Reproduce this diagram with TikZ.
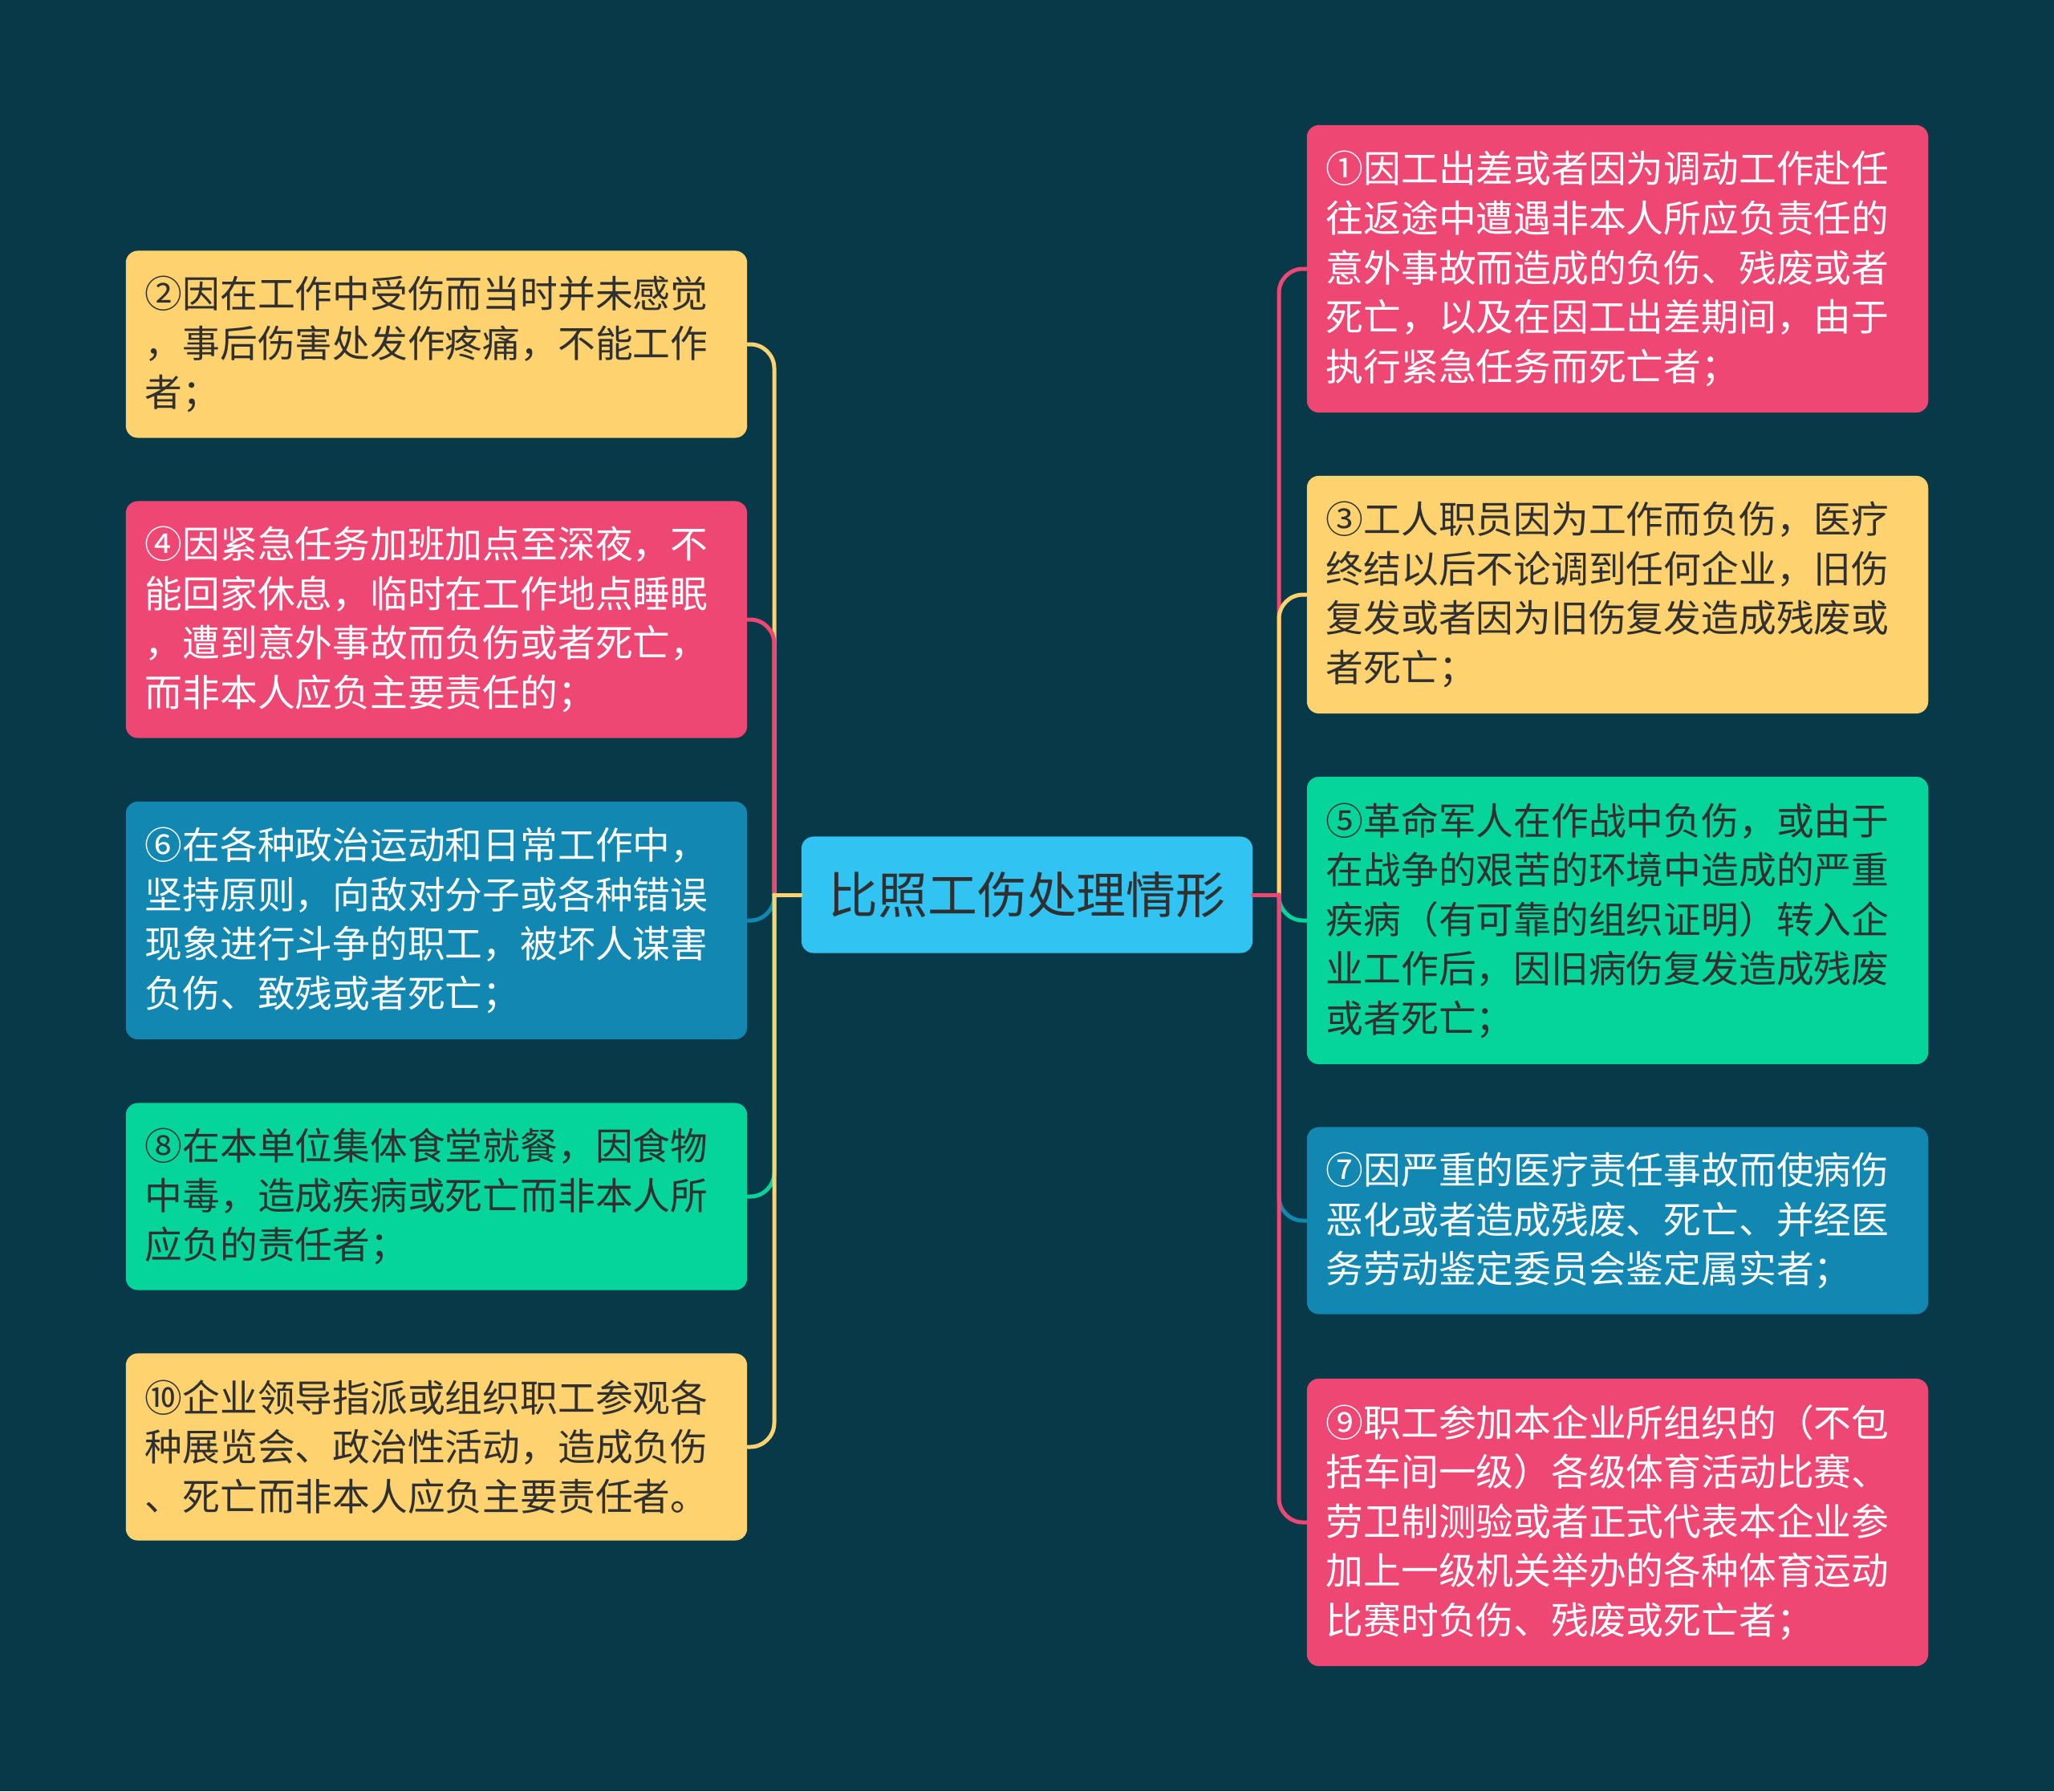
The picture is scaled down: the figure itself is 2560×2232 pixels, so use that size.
\documentclass[tikz,border=0pt]{standalone}
\usepackage{fontspec}
\newfontfamily\cjk{Noto Sans CJK SC}
\definecolor{bgteal}{RGB}{7,57,73}
\definecolor{cyellow}{RGB}{254,210,110}
\definecolor{cpink}{RGB}{239,71,116}
\definecolor{cblue}{RGB}{17,135,177}
\definecolor{cgreen}{RGB}{6,213,155}
\definecolor{ccyan}{RGB}{49,196,243}
\definecolor{cdark}{RGB}{48,48,48}

\begin{document}
\begin{tikzpicture}[
  x=0.01cm, y=-0.01cm,
  box/.style={rounded corners=1.5mm, text width=7.26cm, inner xsep=0.24cm, inner ysep=0pt,
    align=left, font=\cjk\fontsize{13.3pt}{17.5pt}\selectfont},
  yellowbox/.style={box, fill=cyellow, text=cdark},
  pinkbox/.style={box, fill=cpink, text=white},
  bluebox/.style={box, fill=cblue, text=white},
  greenbox/.style={box, fill=cgreen, text=cdark},
  rootbox/.style={rounded corners=1.5mm, fill=ccyan, text=cdark, minimum width=5.62cm,
    minimum height=1.45cm, inner sep=0pt, font=\cjk\fontsize{17.6pt}{20pt}\selectfont},
  link/.style={line width=0.05cm, line cap=round}
]
  \fill[bgteal] (0,0) rectangle (2560,2232);

  \node[rootbox] (root) at (1280,1115) {比照工伤处理情形};

  \node[yellowbox, minimum height=2.33cm] (c2) at (544,429) {②因在工作中受伤而当时并未感觉\\，事后伤害处发作疼痛，不能工作\\者；};
  \node[pinkbox, minimum height=2.95cm] (c4) at (544,772) {④因紧急任务加班加点至深夜，不\\能回家休息，临时在工作地点睡眠\\，遭到意外事故而负伤或者死亡，\\而非本人应负主要责任的；};
  \node[bluebox, minimum height=2.96cm] (c6) at (544,1147) {⑥在各种政治运动和日常工作中，\\坚持原则，向敌对分子或各种错误\\现象进行斗争的职工，被坏人谋害\\负伤、致残或者死亡；};
  \node[greenbox, minimum height=2.33cm] (c8) at (544,1491) {⑧在本单位集体食堂就餐，因食物\\中毒，造成疾病或死亡而非本人所\\应负的责任者；};
  \node[yellowbox, minimum height=2.33cm] (c10) at (544,1803) {⑩企业领导指派或组织职工参观各\\种展览会、政治性活动，造成负伤\\、死亡而非本人应负主要责任者。};

  \node[pinkbox, minimum height=3.58cm] (c1) at (2016,335) {①因工出差或者因为调动工作赴任\\往返途中遭遇非本人所应负责任的\\意外事故而造成的负伤、残废或者\\死亡，以及在因工出差期间，由于\\执行紧急任务而死亡者；};
  \node[yellowbox, minimum height=2.96cm] (c3) at (2016,741) {③工人职员因为工作而负伤，医疗\\终结以后不论调到任何企业，旧伤\\复发或者因为旧伤复发造成残废或\\者死亡；};
  \node[greenbox, minimum height=3.58cm] (c5) at (2016,1147) {⑤革命军人在作战中负伤，或由于\\在战争的艰苦的环境中造成的严重\\疾病（有可靠的组织证明）转入企\\业工作后，因旧病伤复发造成残废\\或者死亡；};
  \node[bluebox, minimum height=2.33cm] (c7) at (2016,1521) {⑦因严重的医疗责任事故而使病伤\\恶化或者造成残废、死亡、并经医\\务劳动鉴定委员会鉴定属实者；};
  \node[pinkbox, minimum height=3.58cm] (c9) at (2016,1897) {⑨职工参加本企业所组织的（不包\\括车间一级）各级体育活动比赛、\\劳卫制测验或者正式代表本企业参\\加上一级机关举办的各种体育运动\\比赛时负伤、残废或死亡者；};

  \coordinate (jl) at (965,1115);
  \coordinate (jr) at (1594,1115);

  \foreach \n/\c in {c2/cyellow,c4/cpink,c6/cblue,c8/cgreen,c10/cyellow} {
    \draw[link, draw=\c] (root.west) -- (jl);
    \draw[link, draw=\c, rounded corners=3mm] (jl) |- (\n.east);
  }
  \foreach \n/\c in {c1/cpink,c3/cyellow,c5/cgreen,c7/cblue,c9/cpink} {
    \draw[link, draw=\c] (root.east) -- (jr);
    \draw[link, draw=\c, rounded corners=3mm] (jr) |- (\n.west);
  }
\end{tikzpicture}
\end{document}
